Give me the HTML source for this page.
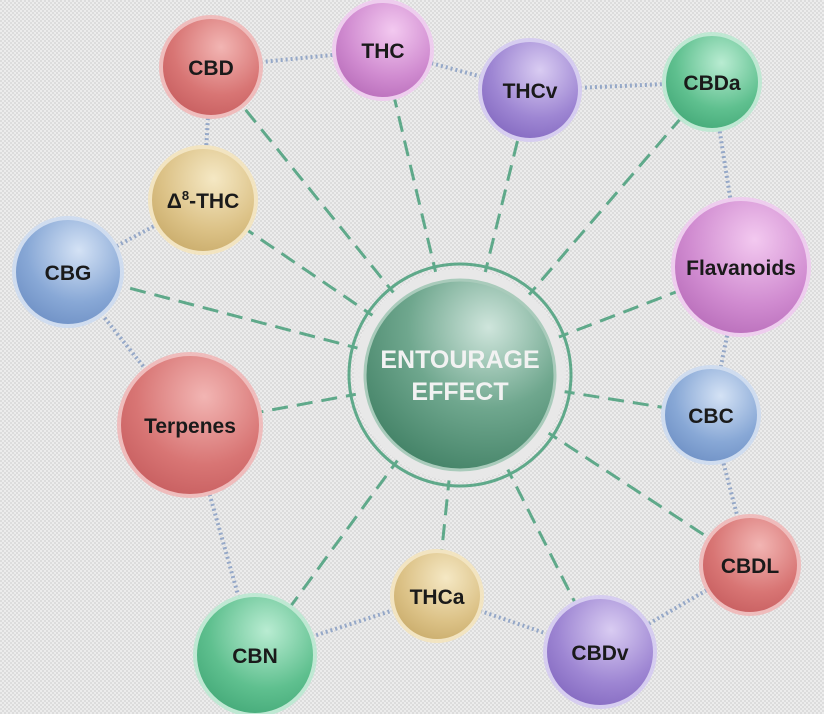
<!DOCTYPE html>
<html><head><style>
html,body{margin:0;padding:0;}
body{width:824px;height:714px;overflow:hidden;background:#e6e6e6;}
svg{display:block;}
text{font-family:"Liberation Sans",sans-serif;font-weight:bold;fill:#1a1a1a;}
</style></head><body>
<svg width="824" height="714" viewBox="0 0 824 714" xmlns="http://www.w3.org/2000/svg">
<defs>
<pattern id="bg" width="4" height="4" patternUnits="userSpaceOnUse">
<rect width="4" height="4" fill="#ececec"/><rect width="2" height="2" fill="#dcdcdc"/><rect x="2" y="2" width="2" height="2" fill="#dcdcdc"/>
</pattern>
<radialGradient id="gr" cx="0.6" cy="0.3" r="0.8"><stop offset="0" stop-color="#f2b5b3"/><stop offset="0.6" stop-color="#d87574"/><stop offset="1" stop-color="#c45a5c"/></radialGradient>
<radialGradient id="gp" cx="0.6" cy="0.3" r="0.8"><stop offset="0" stop-color="#f3c9f0"/><stop offset="0.6" stop-color="#d08bd0"/><stop offset="1" stop-color="#b468b6"/></radialGradient>
<radialGradient id="gv" cx="0.6" cy="0.3" r="0.8"><stop offset="0" stop-color="#d9ccf2"/><stop offset="0.6" stop-color="#9e86d3"/><stop offset="1" stop-color="#7f64bd"/></radialGradient>
<radialGradient id="gg" cx="0.6" cy="0.3" r="0.8"><stop offset="0" stop-color="#b9ecd2"/><stop offset="0.6" stop-color="#5fc08f"/><stop offset="1" stop-color="#3fa574"/></radialGradient>
<radialGradient id="gt" cx="0.6" cy="0.3" r="0.8"><stop offset="0" stop-color="#f5e8c4"/><stop offset="0.6" stop-color="#dcc287"/><stop offset="1" stop-color="#c6a866"/></radialGradient>
<radialGradient id="gb" cx="0.6" cy="0.3" r="0.8"><stop offset="0" stop-color="#d4e2f5"/><stop offset="0.6" stop-color="#88a8d6"/><stop offset="1" stop-color="#6a8cc2"/></radialGradient>
<radialGradient id="gc" cx="0.65" cy="0.25" r="0.85"><stop offset="0" stop-color="#cfe5dc"/><stop offset="0.5" stop-color="#6fa78e"/><stop offset="1" stop-color="#3e7e62"/></radialGradient>
</defs>
<rect width="824" height="714" fill="url(#bg)"/>
<g stroke="#95a8c8" stroke-width="4" stroke-dasharray="2 3" fill="none">
<line x1="211" y1="67" x2="383" y2="50"/><line x1="383" y1="50" x2="530" y2="90"/>
<line x1="530" y1="90" x2="712" y2="82"/><line x1="712" y1="82" x2="741" y2="267"/>
<line x1="741" y1="267" x2="711" y2="415"/><line x1="711" y1="415" x2="750" y2="565"/>
<line x1="750" y1="565" x2="600" y2="652"/><line x1="600" y1="652" x2="437" y2="596"/>
<line x1="437" y1="596" x2="255" y2="655"/><line x1="255" y1="655" x2="190" y2="425"/>
<line x1="190" y1="425" x2="68" y2="272"/><line x1="68" y1="272" x2="203" y2="200"/>
<line x1="203" y1="200" x2="211" y2="67"/>
</g>
<g stroke="#5fa98a" stroke-width="3" stroke-dasharray="16 9" fill="none">
<line x1="460" y1="375" x2="211" y2="67"/><line x1="460" y1="375" x2="383" y2="50"/>
<line x1="460" y1="375" x2="530" y2="90"/><line x1="460" y1="375" x2="712" y2="82"/>
<line x1="460" y1="375" x2="741" y2="267"/><line x1="460" y1="375" x2="711" y2="415"/>
<line x1="460" y1="375" x2="750" y2="565"/><line x1="460" y1="375" x2="600" y2="652"/>
<line x1="460" y1="375" x2="437" y2="596"/><line x1="460" y1="375" x2="255" y2="655"/>
<line x1="460" y1="375" x2="190" y2="425"/><line x1="460" y1="375" x2="68" y2="272"/>
<line x1="460" y1="375" x2="203" y2="200"/>
</g>
<circle cx="460" cy="375" r="106" fill="#e8e8e8"/>
<circle cx="460" cy="375" r="111" fill="none" stroke="#5fa98a" stroke-width="3"/>
<circle cx="460" cy="375" r="95" fill="url(#gc)" stroke="#a9cbbb" stroke-width="3"/>
<text x="460" y="368" text-anchor="middle" font-size="25" style="fill:#f2f2f2">ENTOURAGE</text>
<text x="460" y="400" text-anchor="middle" font-size="25" style="fill:#f2f2f2">EFFECT</text>
<g stroke-width="4">
<circle cx="211" cy="67" r="50" fill="url(#gr)" stroke="#efbcbc"/>
<circle cx="383" cy="50" r="49" fill="url(#gp)" stroke="#eecdee"/>
<circle cx="530" cy="90" r="50" fill="url(#gv)" stroke="#d6cdf0"/>
<circle cx="712" cy="82" r="48" fill="url(#gg)" stroke="#bfe8d3"/>
<circle cx="203" cy="200" r="53" fill="url(#gt)" stroke="#f2e4c1"/>
<circle cx="68" cy="272" r="54" fill="url(#gb)" stroke="#cfdcef"/>
<circle cx="741" cy="267" r="68" fill="url(#gp)" stroke="#eecdee"/>
<circle cx="190" cy="425" r="71" fill="url(#gr)" stroke="#efbcbc"/>
<circle cx="711" cy="415" r="48" fill="url(#gb)" stroke="#cfdcef"/>
<circle cx="750" cy="565" r="49" fill="url(#gr)" stroke="#efbcbc"/>
<circle cx="437" cy="596" r="45" fill="url(#gt)" stroke="#f2e4c1"/>
<circle cx="255" cy="655" r="60" fill="url(#gg)" stroke="#bfe8d3"/>
<circle cx="600" cy="652" r="55" fill="url(#gv)" stroke="#d6cdf0"/>
</g>
<g font-size="21" text-anchor="middle">
<text x="211" y="75">CBD</text>
<text x="383" y="58">THC</text>
<text x="530" y="98">THCv</text>
<text x="712" y="90">CBDa</text>
<text x="203" y="208">Δ<tspan font-size="13" dy="-8">8</tspan><tspan dy="8">-THC</tspan></text>
<text x="68" y="280">CBG</text>
<text x="741" y="275">Flavanoids</text>
<text x="190" y="433">Terpenes</text>
<text x="711" y="423">CBC</text>
<text x="750" y="573">CBDL</text>
<text x="437" y="604">THCa</text>
<text x="255" y="663">CBN</text>
<text x="600" y="660">CBDv</text>
</g>
</svg>
</body></html>
